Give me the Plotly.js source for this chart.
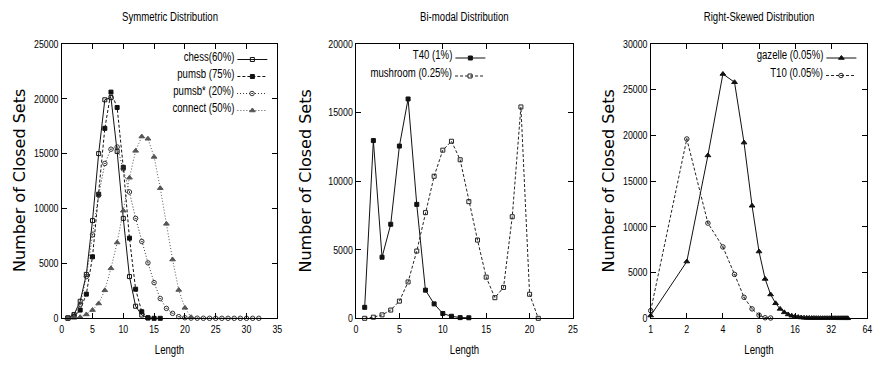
<!DOCTYPE html>
<html><head><meta charset="utf-8">
<script src="https://cdn.plot.ly/plotly-3.0.1.min.js"></script>
<style>html,body{margin:0;padding:0;background:#fff}#chart{width:878px;height:376px}</style>
</head><body><div id="chart"></div>
<script>
// ---------- Panel 1: Symmetric Distribution ----------
const chessX = [1,2,3,4,5,6,7,8,9,10,11,12,13,14];
const chessY = [50,350,1550,4000,8900,15000,19900,20100,15200,9100,3800,1100,300,30];
const pumsbX = [1,2,3,4,5,6,7,8,9,10,11,12,13,14,15,16];
const pumsbY = [0,150,750,2200,5600,11300,17300,20600,19200,13750,7300,2650,600,50,0,0];
const pumsbStarX = [1,2,3,4,5,6,7,8,9,10,11,12,13,14,15,16,17,18,19,20,21,22,23,24,25,26,27,28,29,30,31,32];
const pumsbStarY = [0,300,1250,3800,7600,11200,14100,15400,15600,13600,11500,9100,7000,5050,3250,1800,900,450,150,50,20,10,5,0,0,0,0,0,0,0,0,0];
const connectX = [1,2,3,4,5,6,7,8,9,10,11,12,13,14,15,16,17,18,19,20,21];
const connectY = [0,50,100,350,750,1350,2550,4550,6900,9800,12800,15250,16550,16350,14700,11850,8600,5350,2580,950,100];

// ---------- Panel 2: Bi-modal Distribution ----------
const t40X = [1,2,3,4,5,6,7,8,9,10,11,12,13];
const t40Y = [800,12950,4450,6850,12550,15980,8300,2050,1050,350,150,50,40];
const mushX = [1,2,3,4,5,6,7,8,9,10,11,12,13,14,15,16,17,18,19,20,21];
const mushY = [0,80,250,600,1250,2650,4900,7700,10350,12250,12900,11550,8500,5700,3000,1500,2250,7400,15400,1750,0];

// ---------- Panel 3: Right-Skewed Distribution ----------
const gazX = [1,2,3,4,5,6,7,8,9,10,11,12,13,14,15,16,17,18,19,20,21,22,23,24,25,26,27,28,29,30,31,32,33,34,35,36,37,38,39,40,41,42,43,44];
const gazY = [300,6200,17800,26700,25800,19200,12300,7300,4300,2600,1640,1030,650,420,280,190,130,90,60,45,35,28,22,18,15,12,10,9,8,7,6,5,5,4,4,3,3,3,2,2,2,2,1,1];
const t10X = [1,2,3,4,5,6,7,8,9,10];
const t10Y = [840,19600,10400,7800,4800,2300,1030,350,60,30];
const logTicks = [1,2,4,8,16,32,64];
const logTickText = ['1','2','4','8','16','32','64'];

// ---------- labels ----------
const titles = ['Symmetric Distribution','Bi-modal Distribution','Right-Skewed Distribution'];
const names1 = ['chess(60%)','pumsb (75%)','pumsb* (20%)','connect (50%)'];
const names2 = ['T40 (1%)','mushroom (0.25%)'];
const names3 = ['gazelle (0.05%)','T10 (0.05%)'];
const xTitle = 'Length';
const yTitle = 'Number of Closed Sets';

const SANS = "'Liberation Sans', Arial, sans-serif";
const CONDENSE = 0.8;   // the reference's lettering is horizontally condensed
const W = 878, H = 376;
const px = v => v / W;
const py = v => 1 - v / H;
const keyNames = names1.concat(names2, names3);

function tr(x, y, xa, ya, color, dash, symbol, size, legend, name) {
  return {
    x: x, y: y, xaxis: xa, yaxis: ya, type: 'scatter', mode: 'lines+markers',
    name: '', meta: name, legend: legend, showlegend: true, cliponaxis: false,
    line: {color: color, width: 1, dash: dash},
    marker: {symbol: symbol, size: size, color: color, line: {color: color, width: 1}}
  };
}

const data = [
  tr(chessX, chessY, 'x', 'y', '#111', 'solid', 'square-open', 4, 'legend', names1[0]),
  tr(pumsbX, pumsbY, 'x', 'y', '#111', '3px,2px', 'square', 4, 'legend2', names1[1]),
  tr(pumsbStarX, pumsbStarY, 'x', 'y', '#333', '1px,2px', 'circle-open-dot', 4.5, 'legend3', names1[2]),
  tr(connectX, connectY, 'x', 'y', '#555', '1px,2px', 'triangle-up', 5, 'legend4', names1[3]),
  tr(t40X, t40Y, 'x2', 'y2', '#111', 'solid', 'square', 4, 'legend5', names2[0]),
  tr(mushX, mushY, 'x2', 'y2', '#222', '3px,2px', 'square-open', 4, 'legend6', names2[1]),
  tr(gazX, gazY, 'x3', 'y3', '#111', 'solid', 'triangle-up', 5, 'legend7', names3[0]),
  tr(t10X, t10Y, 'x3', 'y3', '#222', '3px,2px', 'circle-open-dot', 4.5, 'legend8', names3[1])
];

const axBase = {
  showline: true, linecolor: '#000', linewidth: 1, mirror: 'ticks',
  ticks: 'inside', ticklen: 5, tickcolor: '#000', tickwidth: 1,
  showgrid: false, zeroline: false, tickformat: 'd',
  tickfont: {family: SANS, size: 11, color: '#000'}
};
const xt = {text: xTitle, font: {family: SANS, size: 12, color: '#000'}, standoff: 12};
const yDom = [(H - 318.3) / H, (H - 43.8) / H];

const layout = {
  width: W, height: H, margin: {l: 0, r: 0, t: 0, b: 0},
  paper_bgcolor: '#fff', plot_bgcolor: '#fff',
  font: {family: SANS, color: '#000'},
  xaxis: Object.assign({}, axBase, {domain: [px(61.7), px(277.3)], anchor: 'y', range: [0, 35], dtick: 5, tick0: 0, title: xt}),
  yaxis: Object.assign({}, axBase, {domain: yDom, anchor: 'x', range: [0, 25000], dtick: 5000}),
  xaxis2: Object.assign({}, axBase, {domain: [px(356), px(573)], anchor: 'y2', range: [0, 25], dtick: 5, tick0: 0, title: xt}),
  yaxis2: Object.assign({}, axBase, {domain: yDom, anchor: 'x2', range: [0, 20000], dtick: 5000}),
  xaxis3: Object.assign({}, axBase, {domain: [px(650.7), px(867.3)], anchor: 'y3', type: 'log', range: [0, Math.log10(64)], tickmode: 'array', tickvals: logTicks, ticktext: logTickText, title: xt}),
  yaxis3: Object.assign({}, axBase, {domain: yDom, anchor: 'x3', range: [0, 30000], dtick: 5000}),
  annotations: [],
  hovermode: false
};

// subplot titles
const titleCx = [169.5, 464.5, 759];
titles.forEach((t, i) => layout.annotations.push({
  text: t, x: px(titleCx[i]), y: py(17), xref: 'paper', yref: 'paper',
  xanchor: 'center', yanchor: 'middle', showarrow: false,
  font: {family: SANS, size: 12, color: '#000'}
}));
// y-axis titles (rotated)
const yTitleCx = [19, 304.5, 607.5];
yTitleCx.forEach(cx => layout.annotations.push({
  text: yTitle, x: px(cx), y: py(181), xref: 'paper', yref: 'paper',
  xanchor: 'center', yanchor: 'middle', textangle: -90, showarrow: false,
  font: {family: 'DejaVu Sans', size: 16, color: '#000'}
}));

// legend rows: [legend id, name, symbol end px, row y px]
const rows = [
  ['legend', names1[0], 268, 59.5],
  ['legend2', names1[1], 268, 76.5],
  ['legend3', names1[2], 268, 93.5],
  ['legend4', names1[3], 268, 110.5],
  ['legend5', names2[0], 486, 58],
  ['legend6', names2[1], 486, 76],
  ['legend7', names3[0], 857, 58],
  ['legend8', names3[1], 857, 75.5]
];
rows.forEach(r => {
  layout[r[0]] = {
    x: px(r[2] + 10), y: py(r[3]), xanchor: 'right', yanchor: 'middle',
    orientation: 'h', bgcolor: 'rgba(0,0,0,0)', borderwidth: 0,
    font: {family: SANS, size: 12, color: '#000'},
    itemwidth: 30, tracegroupgap: 0, indentation: -10,
    title: {text: r[1], side: 'left', font: {family: SANS, size: 12, color: '#000'}}
  };
});

// condense titles, axis titles and key labels horizontally
// (key labels keep their right edge next to the key sample)
function condense() {
  document.querySelectorAll('#chart svg text').forEach(t => {
    const s = (t.textContent || '').trim();
    if (!s || s === yTitle) return;
    const cls = t.getAttribute('class') || '';
    if (cls.indexOf('tick') >= 0) return;
    t.removeAttribute('textLength');
    const isKey = keyNames.indexOf(s) >= 0;
    if (isKey) {
      if (t.dataset.tf === undefined) t.dataset.tf = t.getAttribute('transform') || '';
      if (t.dataset.tf) t.setAttribute('transform', t.dataset.tf); else t.removeAttribute('transform');
    }
    const L = t.getComputedTextLength();
    if (!L) return;
    t.setAttribute('textLength', (L * CONDENSE).toFixed(2));
    t.setAttribute('lengthAdjust', 'spacingAndGlyphs');
    if (isKey) {
      const dx = L * (1 - CONDENSE);
      t.setAttribute('transform', (t.dataset.tf + ' translate(' + dx.toFixed(2) + ' 0)').trim());
    }
  });
}

const gd = document.getElementById('chart');
Plotly.newPlot(gd, data, layout, {staticPlot: true, displayModeBar: false}).then(() => {
  condense();
  gd.on('plotly_afterplot', condense);
});
</script>
</body></html>
